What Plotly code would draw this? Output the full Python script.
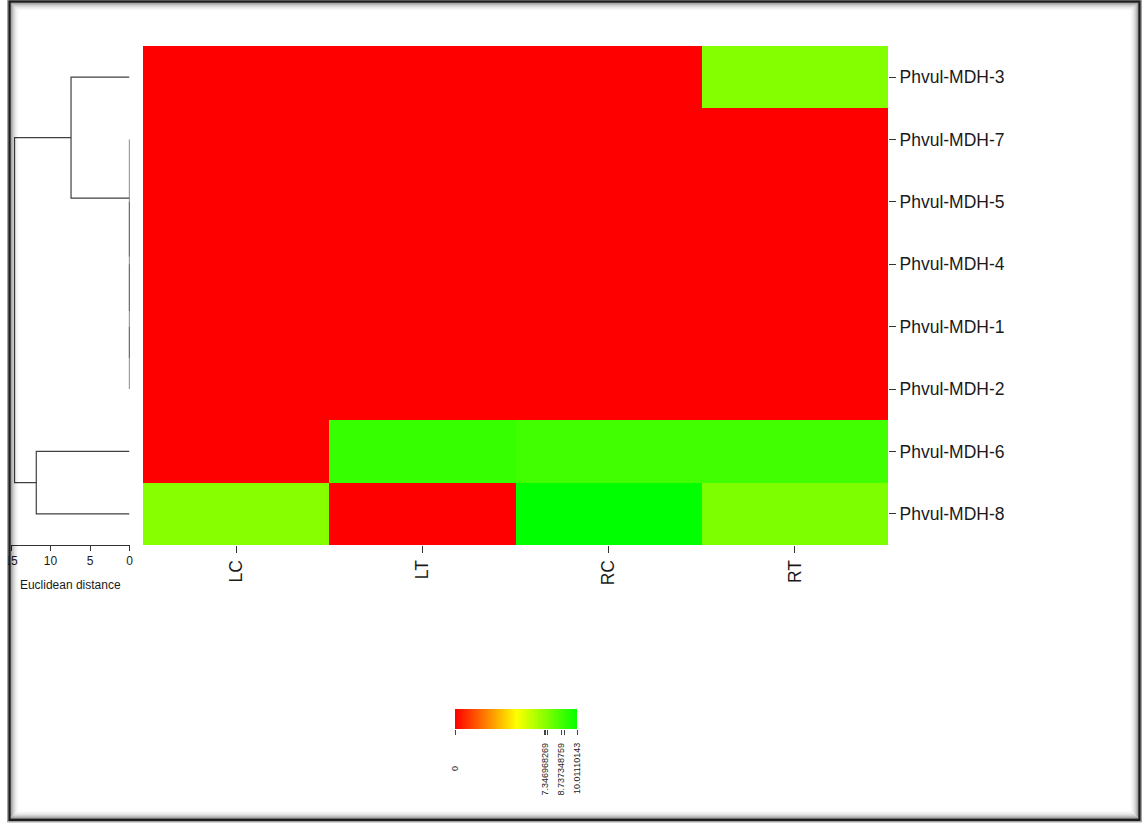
import plotly.graph_objects as go

W, H = 1147, 825

# Rows from top to bottom, in dendrogram leaf order
genes = ["Phvul-MDH-3", "Phvul-MDH-7", "Phvul-MDH-5", "Phvul-MDH-4",
         "Phvul-MDH-1", "Phvul-MDH-2", "Phvul-MDH-6", "Phvul-MDH-8"]
tissues = ["LC", "LT", "RC", "RT"]

# Expression per tissue, one value per gene (same order as `genes`)
LC = [0, 0, 0, 0, 0, 0, 0, 7.346968269]
LT = [0, 0, 0, 0, 0, 0, 8.95, 0]
RC = [0, 0, 0, 0, 0, 0, 8.737348759, 10.01110143]
RT = [7.42, 0, 0, 0, 0, 0, 8.737348759, 7.55]

# Row dendrogram (hclust style: negative = leaf number, positive = earlier merge)
merge_a = [-5, -4, -3, -2, -1, -7, 5]
merge_b = [-6, 1, 2, 3, 4, -8, 6]
merge_h = [0, 0, 0, 0, 7.4, 11.8, 14.55]

# Labelled values on the colour key
key_labels = [0, 7.346968269, 8.737348759, 10.01110143]

z = [list(r) for r in zip(LC, LT, RC, RT)]
zmax = max(max(r) for r in z)
scale = [[0, "#FF0000"], [0.5, "#FFFF00"], [1, "#00FF00"]]


def px(p):
    return p / W


def py(p):
    return 1 - p / H


fig = go.Figure()

fig.add_trace(go.Heatmap(
    z=z, x=list(range(len(tissues))), y=list(range(len(genes))),
    colorscale=scale, zmin=0, zmax=zmax, showscale=False,
    hoverinfo="skip", xaxis="x", yaxis="y"))

# dendrogram segments
ypos, xs, ys = [], [], []
for a, b, h in zip(merge_a, merge_b, merge_h):
    def node(r):
        if r < 0:
            return (-r - 1, 0.0)
        return (ypos[r - 1], merge_h[r - 1])
    ya, ha = node(a)
    yb, hb = node(b)
    xs += [ha, h, h, hb, None]
    ys += [ya, ya, yb, yb, None]
    ypos.append((ya + yb) / 2)

fig.add_trace(go.Scatter(
    x=xs, y=ys, mode="lines", line=dict(color="#404040", width=1.2),
    hoverinfo="skip", showlegend=False, xaxis="x2", yaxis="y"))

# colour key
fig.add_trace(go.Heatmap(
    z=[[0, zmax]], x=[0, zmax], y=[0], zsmooth="best",
    colorscale=scale, zmin=0, zmax=zmax, showscale=False,
    hoverinfo="skip", xaxis="x3", yaxis="y3"))

uniq = sorted(set(v for r in z for v in r))

font_main = "Liberation Sans, Arial, sans-serif"
txt = "#1a1a1a"

fig.update_layout(
    width=W, height=H, margin=dict(l=0, r=0, t=0, b=0, autoexpand=False),
    paper_bgcolor="white", plot_bgcolor="white",
    font=dict(family=font_main, color=txt),
    showlegend=False,
    xaxis=dict(domain=[px(143), px(888)], range=[-0.5, 3.5], anchor="y",
               tickvals=list(range(len(tissues))), ticktext=tissues,
               tickangle=-90, ticks="outside", ticklen=7, tickcolor="#333",
               tickfont=dict(size=17.5, color=txt), showgrid=False,
               zeroline=False, showline=False, automargin=False),
    yaxis=dict(domain=[py(545), py(46)], range=[7.5, -0.5], anchor="x",
               side="right", tickvals=list(range(len(genes))), ticktext=genes,
               ticks="outside", ticklen=7, tickcolor="#333",
               tickfont=dict(size=17.5, color=txt), showgrid=False,
               zeroline=False, showline=False, automargin=False),
    xaxis2=dict(domain=[px(11), px(129.5)], range=[15, 0], anchor="y",
                side="bottom", tickvals=[0, 5, 10, 15], ticks="outside",
                ticklen=5, tickcolor="#333", showline=True,
                linecolor="#333", linewidth=1, tickfont=dict(size=12, color=txt),
                title=dict(text="Euclidean distance", font=dict(size=12, color=txt),
                           standoff=13),
                showgrid=False, zeroline=False, automargin=False),
    xaxis3=dict(domain=[px(455), px(577)], range=[0, zmax], anchor="y3",
                tickvals=uniq, ticks="outside", ticklen=5, tickcolor="#444",
                showticklabels=False, showgrid=False, zeroline=False,
                showline=False, automargin=False),
    yaxis3=dict(domain=[py(729), py(709)], range=[-0.5, 0.5], anchor="x3",
                visible=False, automargin=False),
)

for v in key_labels:
    fig.add_annotation(x=v, xref="x3", y=py(769), yref="paper",
                       text=f"{v:.10g}", textangle=-90, showarrow=False,
                       xanchor="center", yanchor="middle",
                       font=dict(size=9, color="#222"))

# window frame with an inner shadow
shapes = []
shapes.append(dict(type="rect", xref="paper", yref="paper", x0=0, x1=px(8),
                   y0=0, y1=1, fillcolor="white", line=dict(width=0),
                   layer="above"))
L, T, R, B = 9.5, 1.5, 1139.5, 820
for i, a in enumerate([0.45, 0.33, 0.24, 0.17, 0.11, 0.07, 0.04, 0.02]):
    o = 1.5 + i
    shapes.append(dict(type="rect", xref="paper", yref="paper",
                       x0=px(L + o), x1=px(R - o), y0=py(B - o), y1=py(T + o),
                       line=dict(color=f"rgba(0,0,0,{a})", width=1),
                       layer="above"))
shapes.append(dict(type="rect", xref="paper", yref="paper",
                   x0=px(L), x1=px(R), y0=py(B), y1=py(T),
                   line=dict(color="#1e1e1e", width=2.5), layer="above"))
shapes.append(dict(type="rect", xref="paper", yref="paper",
                   x0=px(L - 2), x1=px(R + 2), y0=py(B + 2), y1=py(T - 2),
                   line=dict(color="rgba(0,0,0,0.35)", width=1), layer="above"))
fig.update_layout(shapes=shapes)

fig.write_html("out.html")
